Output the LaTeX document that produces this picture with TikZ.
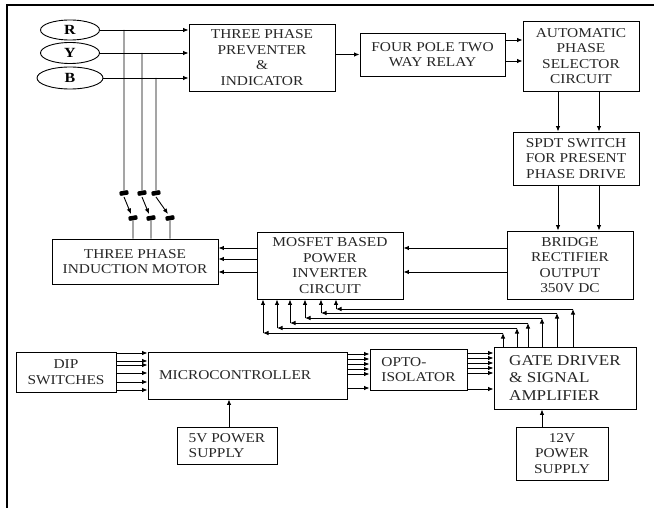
\documentclass[tikz,border=0pt]{standalone}
\usepackage{fontspec}
\setmainfont{Liberation Serif}[FakeStretch=1.14]
\usetikzlibrary{shapes.geometric,arrows.meta,calc}
\begin{document}
\begin{tikzpicture}[x=1pt,y=-1pt,
  blk/.style={draw, line width=0.9pt, inner sep=0pt, align=center, text=black!85, font=\fontsize{13.5}{15.5}\selectfont},
  arr/.style={line width=0.9pt, -{Latex[length=5.5pt,width=4.5pt]}},
  ln/.style={line width=0.9pt},
  phase/.style={draw, ellipse, line width=0.9pt, inner sep=0pt, font=\bfseries\fontsize{14}{16}\selectfont},
  sw/.style={fill, rounded corners=1pt, minimum width=9pt, minimum height=4.5pt, inner sep=0pt, rotate=10}]
\useasboundingbox (0,0) rectangle (654,508);
\draw[line width=1.2pt] (7,508) -- (7,5) -- (654,5);

% phase inputs
\node[phase, minimum width=59pt, minimum height=20pt] (R) at (70,30) {R};
\node[phase, minimum width=59pt, minimum height=21pt] (Y) at (70,53) {Y};
\node[phase, minimum width=66pt, minimum height=22pt] (B) at (70,78) {B};

% blocks
\node[blk, minimum width=146pt, minimum height=67pt] (prev) at (262,57.5) {THREE PHASE\\PREVENTER\\\&\\INDICATOR};
\node[blk, minimum width=145pt, minimum height=43pt] (four) at (432.5,54.5) {FOUR POLE TWO\\WAY RELAY};
\node[blk, minimum width=116pt, minimum height=70pt] (auto) at (581,56) {AUTOMATIC\\PHASE\\SELECTOR\\CIRCUIT};
\node[blk, minimum width=126pt, minimum height=53pt] (spdt) at (576,158.5) {SPDT SWITCH\\FOR PRESENT\\PHASE DRIVE};
\node[blk, minimum width=126pt, minimum height=68pt] (bridge) at (570,265) {BRIDGE\\RECTIFIER\\OUTPUT\\350V DC};
\node[blk, minimum width=146pt, minimum height=67pt] (mos) at (330,265.5) {MOSFET BASED\\POWER\\INVERTER\\CIRCUIT};
\node[blk, minimum width=166pt, minimum height=45pt] (motor) at (135,261.5) {THREE PHASE\\INDUCTION MOTOR};
\node[blk, minimum width=142pt, minimum height=62pt, align=left, font=\fontsize{15}{17.5}\selectfont] (gate) at (565,378) {GATE DRIVER\\\& SIGNAL\\AMPLIFIER};
\node[blk, minimum width=92pt, minimum height=53pt] (v12) at (562,453.5) {12V\\POWER\\SUPPLY};
\node[blk, minimum width=97pt, minimum height=41pt, align=left] (opto) at (418.5,369.5) {OPTO-\\ISOLATOR};
\node[blk, minimum width=199pt, minimum height=47pt, align=left, text width=177pt, inner xsep=11pt] (micro) at (247.5,375.5) {MICROCONTROLLER};
\node[blk, minimum width=100pt, minimum height=40pt] (dip) at (66,372) {DIP\\SWITCHES};
\node[blk, minimum width=100pt, minimum height=37pt, align=left] (v5) at (227,445.5) {5V POWER\\SUPPLY};

% switches
\node[sw] (sR1) at (124,193) {};
\node[sw] (sY1) at (142,193) {};
\node[sw] (sB1) at (156,193) {};
\node[sw] (sR2) at (133,218) {};
\node[sw] (sY2) at (151,218) {};
\node[sw] (sB2) at (170,218) {};

% phase lines
\draw[arr] (R.east) -- (R.east -| prev.west);
\draw[arr] (Y.east) -- (Y.east -| prev.west);
\draw[arr] (B.east) -- (B.east -| prev.west);
\draw[ln] (sR1 |- R.east) -- (sR1);
\draw[ln] (sY1 |- Y.east) -- (sY1);
\draw[ln] (sB1 |- B.east) -- (sB1);
\foreach \a/\b in {sR1/sR2, sY1/sY2, sB1/sB2}{
  \draw[arr] ($(\a)+(0,4)$) -- ($(\b)+(-2,-4)$);
  \draw[ln] (\b) -- (\b |- motor.north);
}

% top chain
\draw[arr] (prev.east |- four.west) -- (four.west);
\coordinate (f1) at (505,40);
\coordinate (f2) at (505,61);
\draw[arr] (f1) -- (f1 -| auto.west);
\draw[arr] (f2) -- (f2 -| auto.west);
\coordinate (a1) at (558,91);
\coordinate (a2) at (599,91);
\draw[arr] (a1) -- (a1 |- spdt.north);
\draw[arr] (a2) -- (a2 |- spdt.north);
\coordinate (s1) at (558,185);
\coordinate (s2) at (599,185);
\draw[arr] (s1) -- (s1 |- bridge.north);
\draw[arr] (s2) -- (s2 |- bridge.north);
\coordinate (b1) at (507,248);
\coordinate (b2) at (507,272);
\draw[arr] (b1) -- (b1 -| mos.east);
\draw[arr] (b2) -- (b2 -| mos.east);
\foreach \y in {248,259,272}{
  \coordinate (mm) at (257,\y);
  \draw[arr] (mm) -- (mm -| motor.east);
}

% bottom chain
\foreach \y in {353,361,365,373,382,390}{
  \coordinate (dd) at (116,\y);
  \draw[arr] (dd) -- (dd -| micro.west);
}
\foreach \y in {354,359,364,369,374,388}{
  \coordinate (cc) at (347,\y);
  \draw[arr] (cc) -- (cc -| opto.west);
}
\foreach \y in {353,358,363,368,373,389}{
  \coordinate (oo) at (467,\y);
  \draw[arr] (oo) -- (oo -| gate.west);
}
\coordinate (p5) at (229,427);
\draw[arr] (p5) -- (p5 |- micro.south);
\coordinate (p12) at (542,427);
\draw[arr] (p12) -- (p12 |- gate.south);

% gate driver feedback to inverter
\foreach \mx/\yy/\gx in {263/333/503, 277/328/517, 290/323/528, 305/318/542, 321/313/557, 336/309/573}{
  \coordinate (hc) at (\mx,\yy);
  \coordinate (gc) at (\gx,\yy);
  \draw[arr] (gc |- gate.north) -- (gc);
  \draw[arr] (gc) -- (hc);
  \draw[arr] (hc) -- (hc |- mos.south);
}
\end{tikzpicture}
\end{document}
